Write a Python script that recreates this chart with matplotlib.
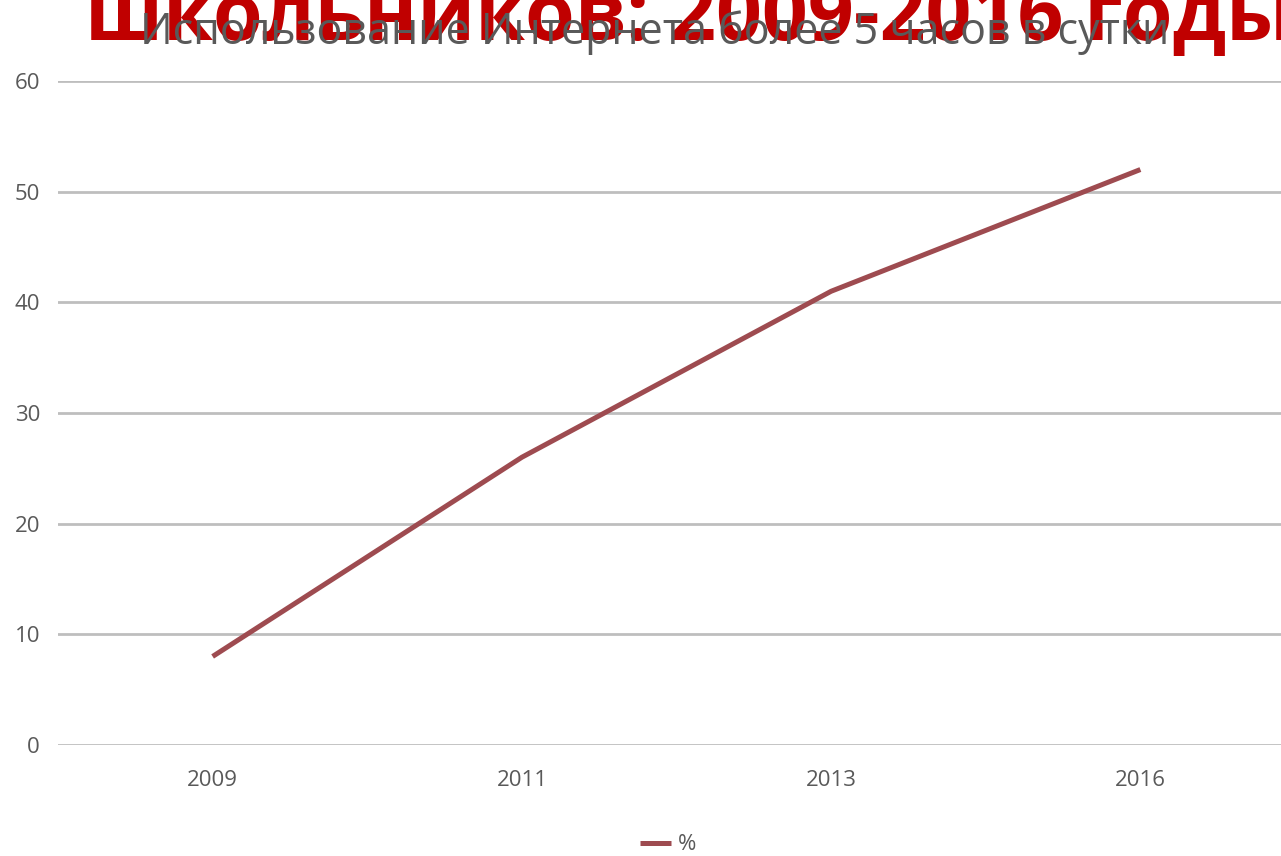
import matplotlib
matplotlib.use("Agg")
import matplotlib.pyplot as plt

years = ["2009", "2011", "2013", "2016"]
values = [8, 26, 41, 52]
yticks = [0, 10, 20, 30, 40, 50, 60]
series_name = "%"
title_gray = "Использование Интернета более 5 часов в сутки"
title_red = "школьников: 2009-2016 годы"

W, H = 1281, 856
fig = plt.figure(figsize=(W/100, H/100), dpi=100)
fig.patch.set_facecolor("white")

left = 58 / W
right_px = 1295
bottom = 1 - 745 / H
top = 1 - 81 / H
ax = fig.add_axes([left, bottom, (right_px - 58) / W, top - bottom])

x = list(range(len(years)))
ax.plot(x, values, color="#9E4B50", linewidth=3.6, solid_capstyle="butt", label=series_name, zorder=3)
ax.set_xlim(-0.5, len(years) - 0.5)
ax.set_ylim(0, 60)
ax.set_yticks(yticks)
ax.set_xticks(x)
ax.set_xticklabels(years)
ax.grid(axis="y", color="#BEBEBE", linewidth=2.0)
ax.set_axisbelow(True)
for s in ax.spines.values():
    s.set_visible(False)
ax.tick_params(axis="both", length=0, labelsize=16, labelcolor="#595959")
ax.tick_params(axis="y", pad=13)
ax.tick_params(axis="x", pad=18)
for lab in ax.get_xticklabels() + ax.get_yticklabels():
    lab.set_family("Open Sans")

fig.text(85 / W, 1 - 40 / H, title_red, ha="left", va="baseline",
         fontsize=58, color="#C00000", family="Open Sans", fontweight="bold", zorder=1)
fig.text(655 / W, 1 - 44 / H, title_gray, ha="center", va="baseline",
         fontsize=31, color="#595959", family="Open Sans", zorder=2)

leg = fig.legend(loc="center", bbox_to_anchor=(668 / W, 1 - 845 / H), frameon=False,
                 fontsize=16, handlelength=1.4, handletextpad=0.3)
for t in leg.get_texts():
    t.set_color("#595959")
    t.set_family("Open Sans")

fig.savefig("out.png", dpi=100)
